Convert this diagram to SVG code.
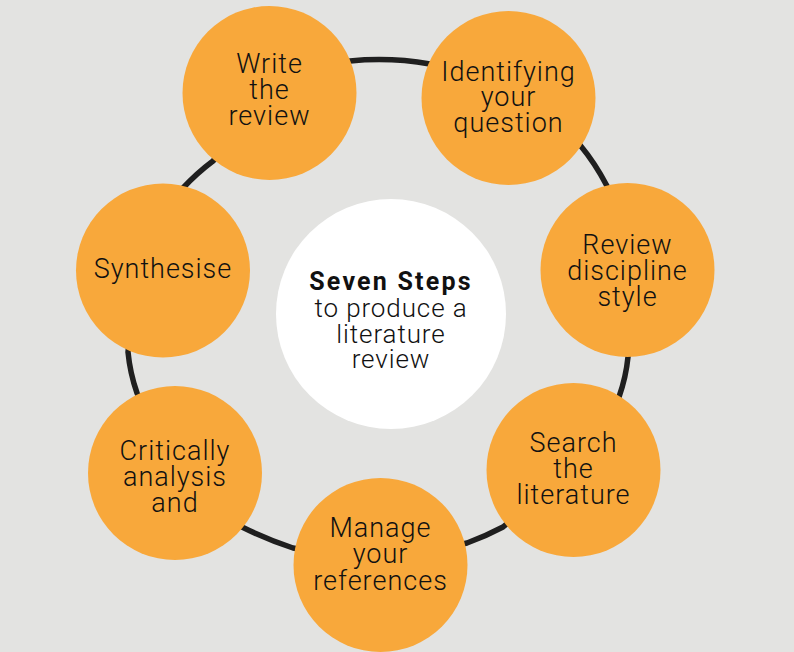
<svg xmlns="http://www.w3.org/2000/svg" width="794" height="652" viewBox="0 0 794 652">
  <style>
    .bg { fill: #e3e3e1; }
    .step { fill: #f8a83b; }
    .hub { fill: #ffffff; }
    .ring { fill: none; stroke: #1f1f1f; stroke-width: 5.5; stroke-linejoin: round; stroke-linecap: round; }
    .lbl { font-family: Roboto, "Liberation Sans", sans-serif; font-size: 27px; font-weight: 300; fill: #111111; text-anchor: middle; letter-spacing: 1px; }
    .ttl { font-family: Roboto, "Liberation Sans", sans-serif; font-size: 25px; font-weight: 700; fill: #111111; text-anchor: middle; letter-spacing: 2.2px; }
    .sub { font-family: Roboto, "Liberation Sans", sans-serif; font-size: 26px; font-weight: 300; fill: #111111; text-anchor: middle; letter-spacing: 0.9px; }
  </style>
  <rect class="bg" x="0" y="0" width="794" height="652"/>
  <g id="connectors">
    <path class="ring" d="M350,61 Q390,57 430,64 L580,145 Q595,163 607,186 L636,270 L628,357 Q626,377 619,397 L570,470 L503,527 Q486,536 467,543 L380,563 L293,548 Q266,539 242,527 L170,460 L137,393 Q130,373 128,352 L138,265 L183,188 Q197,173 213,161 L270,100 Z"/>
  </g>
  <g id="hub">
    <circle class="hub" cx="391" cy="314" r="115"/>
    <text class="ttl" x="391" y="290">Seven Steps</text>
    <text class="sub" x="391" y="317">to produce a</text>
    <text class="sub" x="391" y="343">literature</text>
    <text class="sub" x="391" y="368">review</text>
  </g>
  <g id="step-write">
    <circle class="step" cx="269.5" cy="93" r="87"/>
    <text class="lbl" x="269.5" y="73">Write</text>
    <text class="lbl" x="269.5" y="99">the</text>
    <text class="lbl" x="269.5" y="125">review</text>
  </g>
  <g id="step-identify">
    <circle class="step" cx="508.5" cy="98" r="87"/>
    <text class="lbl" x="508.5" y="81">Identifying</text>
    <text class="lbl" x="508.5" y="106">your</text>
    <text class="lbl" x="508.5" y="132">question</text>
  </g>
  <g id="step-discipline">
    <circle class="step" cx="627.5" cy="270" r="87"/>
    <text class="lbl" x="627.5" y="254">Review</text>
    <text class="lbl" x="627.5" y="280">discipline</text>
    <text class="lbl" x="627.5" y="306">style</text>
  </g>
  <g id="step-search">
    <circle class="step" cx="573.5" cy="470" r="87"/>
    <text class="lbl" x="573.5" y="452">Search</text>
    <text class="lbl" x="573.5" y="478">the</text>
    <text class="lbl" x="573.5" y="504">literature</text>
  </g>
  <g id="step-manage">
    <circle class="step" cx="380.5" cy="565" r="87"/>
    <text class="lbl" x="380.5" y="537">Manage</text>
    <text class="lbl" x="380.5" y="563">your</text>
    <text class="lbl" x="380.5" y="590">references</text>
  </g>
  <g id="step-critical">
    <circle class="step" cx="175" cy="473" r="87"/>
    <text class="lbl" x="175" y="460">Critically</text>
    <text class="lbl" x="175" y="486">analysis</text>
    <text class="lbl" x="175" y="512">and</text>
  </g>
  <g id="step-synthesise">
    <circle class="step" cx="163" cy="270.5" r="87"/>
    <text class="lbl" x="163" y="278">Synthesise</text>
  </g>
</svg>
